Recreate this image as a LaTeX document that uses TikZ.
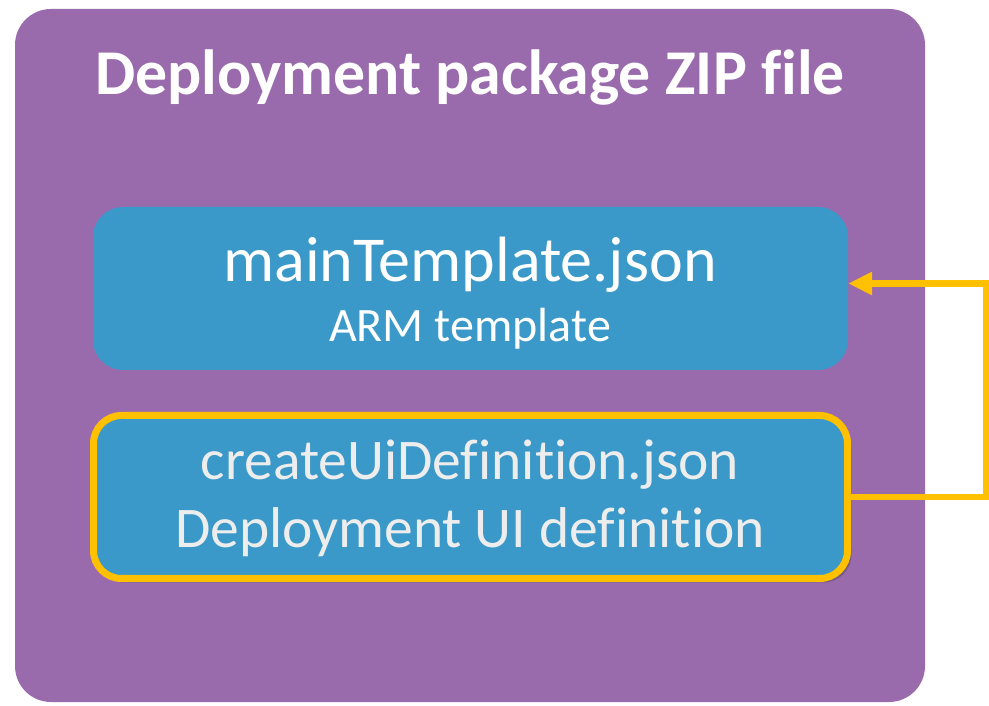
\documentclass[tikz,border=0pt]{standalone}
\usepackage{fontspec}
\setmainfont{Carlito}[Ligatures=CommonOff]
\usetikzlibrary{arrows.meta,shadows}

\definecolor{zippurple}{HTML}{9A6BAC}
\definecolor{fileblue}{HTML}{3A99C8}
\definecolor{uiyellow}{HTML}{FFC000}
\definecolor{uitext}{HTML}{EDEDED}

\tikzstyle{zipbox} = [rectangle, fill=zippurple, rounded corners=36pt, minimum width=910pt, minimum height=693pt, inner sep=0pt]
\tikzstyle{filebox} = [rectangle, fill=fileblue, rounded corners=30pt, minimum width=755pt, minimum height=163pt, inner sep=0pt]
\tikzstyle{uibox} = [filebox, draw=uiyellow, line width=7pt, rounded corners=28pt, minimum width=754pt, minimum height=163pt,
  drop shadow={shadow xshift=4pt, shadow yshift=-4pt, opacity=0.45, fill=black!70}]
\tikzstyle{arrow} = [draw=uiyellow, line width=6.5pt, -{Triangle[length=24pt,width=22pt]}]

\begin{document}
\begin{tikzpicture}
    [x=1pt, y=1pt, inner sep=0pt]
  \useasboundingbox (0,0) rectangle (989,705);
  \node[zipbox] (zip) at (470,349.5) {};
  \node[anchor=base, text=white, font=\bfseries\fontsize{63.8}{66}\selectfont] (title) at (470,610) {Deployment package ZIP file};
  \node[filebox] (main) at (470.5,416.5) {};
  \node[anchor=base, text=white, font=\fontsize{64}{68}\selectfont] (mainname) at (470,423) {mainTemplate.json};
  \node[anchor=base, text=white, font=\fontsize{48}{52}\selectfont] (maindesc) at (470,363) {ARM template};
  \node[uibox] (cui) at (470.5,208) {};
  \node[anchor=base, text=uitext, font=\fontsize{57.5}{60}\selectfont] (cuiname) at (470,225) {createUiDefinition.json};
  \node[anchor=base, text=uitext, font=\fontsize{57.5}{60}\selectfont] (cuidesc) at (470,157) {Deployment UI definition};
  \draw[arrow] (cui.east) -- ++(135,0) |- ([yshift=5pt]main.east);
\end{tikzpicture}
\end{document}
